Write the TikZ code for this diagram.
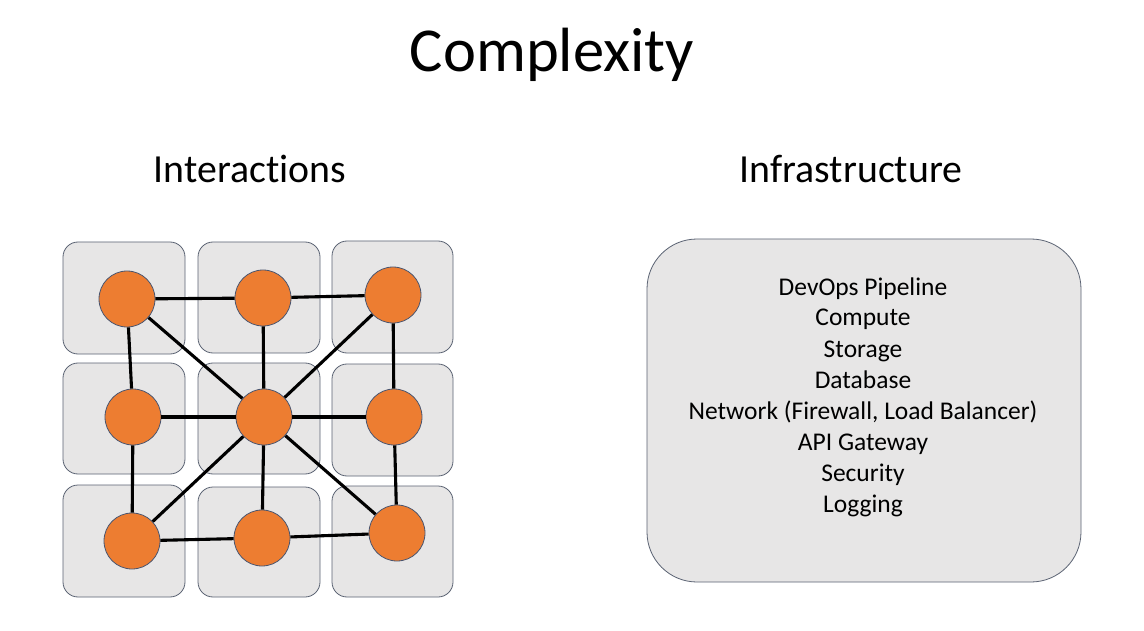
\documentclass[tikz,border=0pt]{standalone}
\usepackage{fontspec}
\setmainfont{Carlito}[Ligatures=NoCommon]
\definecolor{boxfill}{HTML}{E7E6E6}
\definecolor{boxline}{HTML}{5B6373}
\definecolor{dotfill}{HTML}{ED7D31}
\definecolor{dotline}{HTML}{4A5670}
\begin{document}
\begin{tikzpicture}[x=1pt,y=-1pt,
  cell/.style={draw=boxline,fill=boxfill,line width=0.8pt,rounded corners=15pt},
  dot/.style={circle,draw=dotline,fill=dotfill,line width=0.8pt,minimum size=56pt,inner sep=0pt},
  link/.style={line width=3.1pt,black},
  itemtext/.style={anchor=base,font=\fontsize{25.5}{25.5}\selectfont,inner sep=0pt},
  heading/.style={anchor=base,font=\fontsize{39.8}{39.8}\selectfont,inner sep=0pt}]
\useasboundingbox (0,0) rectangle (1144,631);
\fill[white] (0,0) rectangle (1144,631);
% title
\node[anchor=base,font=\fontsize{62.5}{62.5}\selectfont,inner sep=0pt] (title) at (552,72) {Complexity};
\node[heading] (hint) at (250,183) {Interactions};
\node[heading] (hinf) at (851,183) {Infrastructure};
% grid cells
\draw[cell] (63,242) rectangle (185,354);
\draw[cell] (198,242) rectangle (320,353);
\draw[cell] (332,241) rectangle (453,353);
\draw[cell] (63,363) rectangle (185,474);
\draw[cell] (198,363) rectangle (320,474);
\draw[cell] (332,364) rectangle (453,476);
\draw[cell] (63,485) rectangle (185,597);
\draw[cell] (198,487) rectangle (320,597);
\draw[cell] (332,486) rectangle (453,597);
% nodes
\node[dot] (tl) at (127,299) {};
\node[dot] (tm) at (263,298) {};
\node[dot] (tr) at (393,295) {};
\node[dot] (ml) at (133,417) {};
\node[dot] (c)  at (264,417) {};
\node[dot] (mr) at (394,417) {};
\node[dot] (bl) at (132,541) {};
\node[dot] (bm) at (262,538) {};
\node[dot] (br) at (397,533) {};
% links
\draw[link] (tl) -- (tm);
\draw[link] (tm) -- (tr);
\draw[link] (tl) -- (ml);
\draw[link] (tl) -- (c);
\draw[link] (tm) -- (c);
\draw[link] (tr) -- (c);
\draw[link] (tr) -- (mr);
\draw[link] (ml) -- (c);
\draw[link] (c) -- (mr);
\draw[link] (ml) -- (bl);
\draw[link] (c) -- (bl);
\draw[link] (c) -- (bm);
\draw[link] (c) -- (br);
\draw[link] (mr) -- (br);
\draw[link] (bl) -- (bm);
\draw[link] (bm) -- (br);
% infrastructure box
\draw[cell,rounded corners=50pt] (647,239) rectangle (1081,582);
\node[itemtext] (i1) at (863,295) {DevOps Pipeline};
\node[itemtext] (i2) at (863,326) {Compute};
\node[itemtext] (i3) at (863,357) {Storage};
\node[itemtext] (i4) at (863,388) {Database};
\node[itemtext] (i5) at (863,419) {Network (Firewall, Load Balancer)};
\node[itemtext] (i6) at (863,450) {API Gateway};
\node[itemtext] (i7) at (863,481) {Security};
\node[itemtext] (i8) at (863,512) {Logging};
\end{tikzpicture}
\end{document}
